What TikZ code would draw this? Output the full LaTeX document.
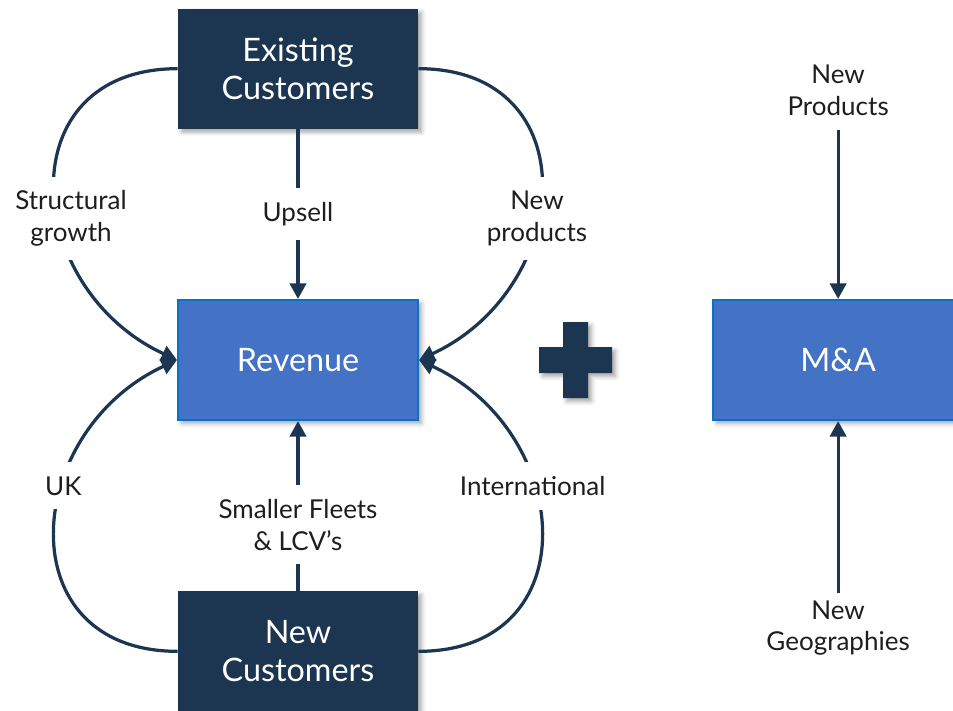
\documentclass[tikz,border=0pt]{standalone}
\usepackage{fontspec}
\setmainfont{Lato}
\usetikzlibrary{arrows.meta,positioning,calc,shadows.blur}

\definecolor{navy}{HTML}{1C3550}
\definecolor{revblue}{HTML}{4472C4}
\definecolor{revedge}{HTML}{0A72C6}
\definecolor{labeltext}{HTML}{1E1E1E}

\begin{document}
\begin{tikzpicture}[
  softshadow/.style={blur shadow={shadow xshift=2.5pt, shadow yshift=-2.5pt,
                     shadow blur radius=3pt, shadow opacity=35}},
  custbox/.style={rectangle, fill=navy, text=white, minimum width=6cm,
                  minimum height=3cm, align=center, softshadow,
                  font=\fontsize{23}{27}\selectfont},
  revbox/.style={rectangle, draw=revedge, line width=1.5pt, fill=revblue,
                 text=white, minimum width=6cm, minimum height=3cm,
                 align=center, softshadow, font=\fontsize{23}{27}\selectfont},
  lbl/.style={fill=white, align=center, text=labeltext, inner xsep=2pt,
              inner ysep=10pt, font=\fontsize{18.5}{22.5}\selectfont},
  link/.style={draw=navy, line width=2.3pt},
  arrow/.style={link, -{Triangle[length=11pt, width=11.5pt]}},
  node distance=4.25cm
]
  \useasboundingbox (0,0) rectangle (23.825,-17.75);

  \node[revbox] (rev) at (7.45,-9) {Revenue};
  \node[custbox, above=of rev] (exist) {Existing\\Customers};
  \node[custbox, below=of rev] (newcust) {New\\Customers};
  \node[revbox, right=7.325cm of rev, minimum width=6.25cm] (ma) {M\&A};
  \node[lbl, above=4.225cm of ma] (newprod) {New\\Products};
  \node[lbl, below=4.125cm of ma] (newgeo) {New\\Geographies};

  \draw[arrow] (exist) -- node[lbl]{Upsell} (rev);
  \draw[arrow] (newcust) -- node[lbl, pos=0.39]{Smaller Fleets\\\& LCV’s} (rev);

  \draw[arrow] (exist.west) to[out=180, in=155, looseness=1.5]
    node[lbl, pos=0.58, xshift=0.3cm]{Structural\\growth} (rev.west);
  \draw[arrow] (newcust.west) to[out=180, in=205, looseness=1.5]
    node[lbl, pos=0.62]{UK} (rev.west);
  \draw[arrow] (exist.east) to[out=0, in=25, looseness=1.5]
    node[lbl, pos=0.58]{New\\products} (rev.east);
  \draw[arrow] (newcust.east) to[out=0, in=-25, looseness=1.5]
    node[lbl, pos=0.62]{International} (rev.east);

  \draw[arrow] (newprod) -- (ma);
  \draw[arrow, shorten <=-5pt] (newgeo) -- (ma);

  % plus sign between the two groups
  \coordinate[xshift=0.25cm] (plus) at ($(rev.east)!0.5!(ma.west)$);
  \begin{scope}[shift={(plus)}]
    \fill[navy, softshadow] (-0.9125,0.325) -- (-0.3125,0.325) -- (-0.3125,0.95)
      -- (0.3125,0.95) -- (0.3125,0.325) -- (0.9125,0.325) -- (0.9125,-0.325)
      -- (0.3125,-0.325) -- (0.3125,-0.95) -- (-0.3125,-0.95) -- (-0.3125,-0.325)
      -- (-0.9125,-0.325) -- cycle;
  \end{scope}
\end{tikzpicture}
\end{document}
